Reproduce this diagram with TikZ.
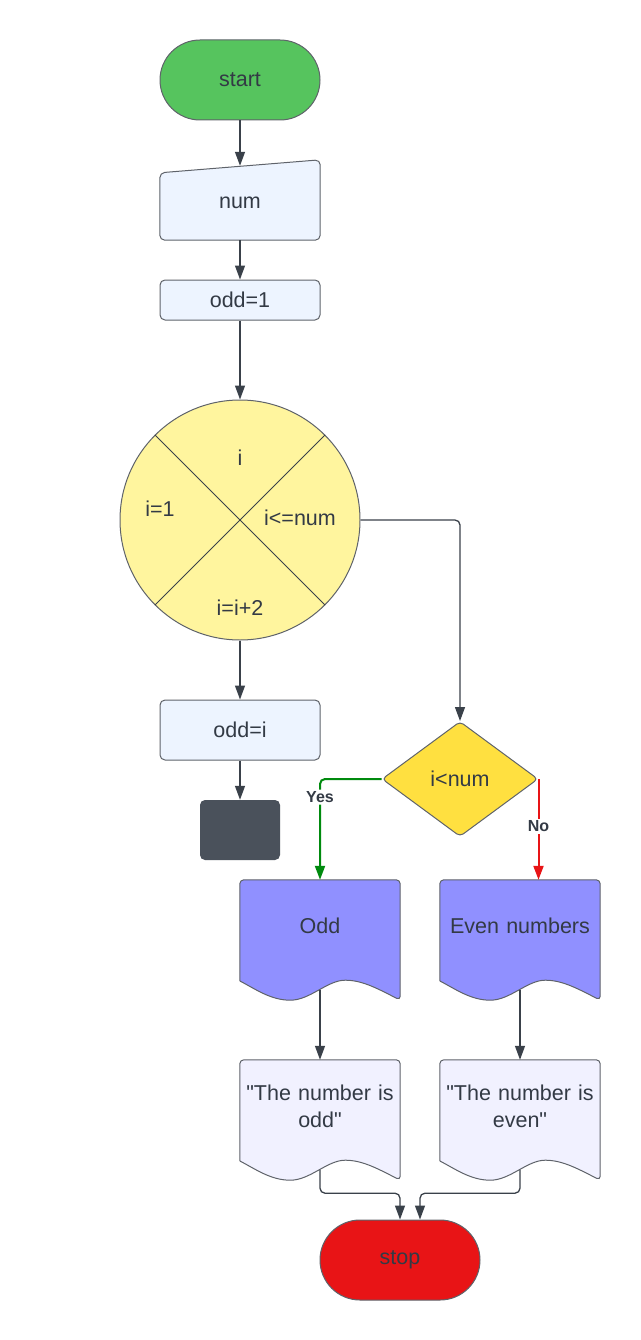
\documentclass[tikz,border=0pt]{standalone}
\usepackage{fontspec}
\setmainfont{Liberation Sans}[Ligatures=TeXOff]
\usetikzlibrary{arrows.meta,calc,shapes.geometric,backgrounds}

\definecolor{txt}{RGB}{51,58,69}
\definecolor{lnk}{RGB}{58,65,74}
\definecolor{edge}{RGB}{95,99,106}
\definecolor{startgreen}{RGB}{86,196,94}
\definecolor{paleblue}{RGB}{237,244,255}
\definecolor{paleyellow}{RGB}{255,245,158}
\definecolor{slate}{RGB}{74,81,91}
\definecolor{gold}{RGB}{255,224,64}
\definecolor{lilac}{RGB}{144,144,255}
\definecolor{palelilac}{RGB}{241,241,255}
\definecolor{stopred}{RGB}{232,20,22}
\definecolor{yesgreen}{RGB}{0,138,14}

% document outline drawn behind a named node
\newcommand{\docoutline}[2]{%
\begin{scope}[on background layer]
\draw[shapeline,fill=#2] ($(#1.south west)+(0,8)$) [rounded corners=4pt] -- (#1.north west) -- (#1.north east) -- ($(#1.south east)+(0,28)$) [sharp corners]
 .. controls +(-25,-13) and +(16,0) .. ++(-55,-20)
 .. controls +(-18,0) and +(20,0) .. ++(-55,20)
 .. controls +(-20,0) and +(14,7) .. ++(-50,-19) -- cycle;
\end{scope}}

\begin{document}
\begin{tikzpicture}[x=1pt,y=-1pt,
  font=\fontsize{21.5}{27}\selectfont, text=txt,
  shapeline/.style={draw=edge,line width=1pt},
  arr/.style={draw=lnk,line width=1.3pt,-{Triangle[length=14pt,width=10pt]}},
  box/.style={shapeline,fill=paleblue,rounded corners=5pt,minimum width=160pt,inner sep=2pt},
  term/.style={shapeline,rounded corners=40pt,minimum width=160pt,minimum height=80pt},
  docnode/.style={minimum width=160pt,minimum height=92pt,text width=160pt,inner sep=0pt,align=center,
    execute at begin node={\hyphenpenalty=10000}},
  lbl/.style={fill=white,inner sep=2pt,font=\bfseries\fontsize{16}{19}\selectfont},
  yes/.style={draw=yesgreen,line width=2pt,rounded corners=5pt,-{Triangle[length=14pt,width=10pt]}},
  no/.style={draw=stopred,line width=2pt,-{Triangle[length=14pt,width=10pt]}}]
\useasboundingbox (0,0) rectangle (640,1340);

\node[term,fill=startgreen] (start) at (240,80) {start};
\node[minimum width=160pt,minimum height=74pt] (num) at (240,203) {num};
\begin{scope}[on background layer]
\draw[shapeline,fill=paleblue,rounded corners=5pt] (num.south west) -- ($(num.north west)+(0,7)$) -- ($(num.north east)+(0,-6)$) -- (num.south east) -- cycle;
\end{scope}
\node[box,minimum height=40pt] (init) at (240,300) {odd=1};

\node[circle,shapeline,fill=paleyellow,minimum size=240pt] (loop) at (240,520) {};
\draw[draw=lnk,line width=0.8pt] (loop.45) -- (loop.225) (loop.135) -- (loop.-45);
\node (loopvar) at (240,458) {i};
\node (loopinit) at (160,509) {i=1};
\node (looptest) at (300,518) {i<=num};
\node (loopstep) at (240,608) {i=i+2};

\node[box,minimum height=60pt] (body) at (240,730) {odd=i};
\node[fill=slate,rounded corners=5pt,minimum width=80pt,minimum height=60pt] (endbox) at (240,830) {};

\node[diamond,shapeline,fill=gold,rounded corners=4pt,minimum width=156pt,minimum height=115pt,inner sep=0pt] (cond) at (460,779) {i<num};

\node[docnode] (odd) at (320,926) {Odd};
\docoutline{odd}{lilac}
\node[docnode] (even) at (520,926) {Even numbers};
\docoutline{even}{lilac}
\node[docnode] (oddmsg) at (320,1106) {"The number is\\odd"};
\docoutline{oddmsg}{palelilac}
\node[docnode] (evenmsg) at (520,1106) {"The number is\\even"};
\docoutline{evenmsg}{palelilac}

\node[term,fill=stopred] (stop) at (400,1260) {stop};

\draw[arr] (start) -- (num);
\draw[arr] (num) -- (init);
\draw[arr] (init) -- (loop);
\draw[arr] (loop) -- (body);
\draw[arr] (body) -- (endbox);
\draw[arr,rounded corners=5pt] (loop.east) -| (cond.north);
\draw[yes] (cond.west) -| (odd.north) node[lbl,pos=0.59] (yeslbl) {Yes};
\draw[no] (cond.east) -- (cond.east |- even.north) node[lbl,pos=0.47] (nolbl) {No};
\draw[arr] ($(odd.south)+(0,18)$) -- (oddmsg.north);
\draw[arr] ($(even.south)+(0,18)$) -- (evenmsg.north);
\draw[arr,rounded corners=5pt] ($(oddmsg.south)+(0,18)$) -- ++(0,23) -| (stop.north);
\draw[arr,rounded corners=5pt] ($(evenmsg.south)+(0,18)$) -- ++(0,23) -| ($(stop.north)+(20,0)$);
\end{tikzpicture}
\end{document}
